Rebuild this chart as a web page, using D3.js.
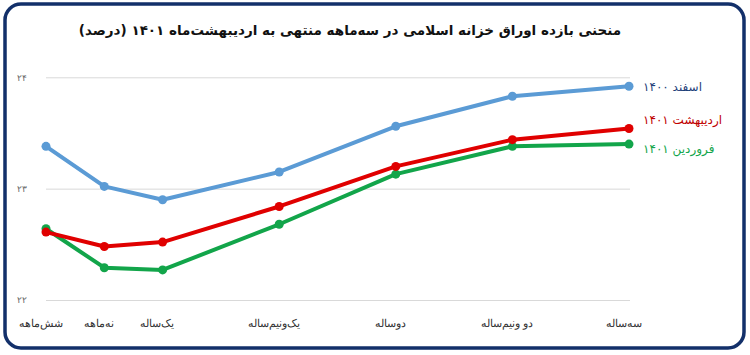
<!DOCTYPE html>
<html>
<head>
<meta charset="utf-8">
<script src="https://cdn.jsdelivr.net/npm/d3@7"></script>
<style>
  body { margin: 0; background: #fff; }
  svg { display: block; font-family: "DejaVu Sans", "Noto Sans", sans-serif; }
</style>
</head>
<body>
<svg></svg>
<script>
const w = 750
const h = 355

// maturities in months, and their labels
const months = [6, 9, 12, 18, 24, 30, 36]
const monthLabels = ['شش‌ماهه', 'نه‌ماهه', 'یک‌ساله', 'یک‌ونیم‌ساله', 'دوساله', 'دو ونیم‌ساله', 'سه‌ساله']

const esfand1400 = [23.38, 23.02, 22.90, 23.15, 23.56, 23.83, 23.92]
const ordibehesht1401 = [22.61, 22.48, 22.52, 22.84, 23.20, 23.44, 23.54]
const farvardin1401 = [22.64, 22.29, 22.27, 22.68, 23.13, 23.38, 23.40]

const yTicks = [22, 23, 24]
const yTickLabels = ['۲۲', '۲۳', '۲۴']

const seriesNames = ['اسفند ۱۴۰۰', 'اردیبهشت ۱۴۰۱', 'فروردین ۱۴۰۱']
const title = 'منحنی بازده اوراق خزانه اسلامی در سه‌ماهه منتهی به اردیبهشت‌ماه ۱۴۰۱ (درصد)'

const series = [
  { name: seriesNames[0], values: esfand1400, color: '#5b9bd5', text: '#1f3f7a', dy: 5 },
  { name: seriesNames[2], values: farvardin1401, color: '#12a54a', text: '#12a54a', dy: 9 },
  { name: seriesNames[1], values: ordibehesht1401, color: '#e00000', text: '#c00000', dy: -5 }
]

const svg = d3.select('svg')
  .attr('width', w)
  .attr('height', h);

// frame
svg.append('rect')
  .attr('x', 5).attr('y', 4)
  .attr('width', 739).attr('height', 344)
  .attr('rx', 16)
  .attr('fill', 'none')
  .attr('stroke', '#13306a')
  .attr('stroke-width', 3.5);

svg.append('text')
  .attr('x', 350).attr('y', 35)
  .attr('text-anchor', 'middle')
  .attr('font-size', 13.5)
  .attr('font-weight', 'bold')
  .attr('fill', '#111')
  .text(title);

const xScale = d3.scaleLinear()
  .domain([6, 36])
  .range([46, 629]);

const yScale = d3.scaleLinear()
  .domain([22, 24])
  .range([300, 77.3]);

const g = svg.append('g');

// gridlines
const yAxis = d3.axisLeft(yScale)
  .tickValues(yTicks)
  .tickSize(-(630 - 46))
  .tickFormat((d, i) => yTickLabels[i]);

const yAxisG = g.append('g')
  .attr('transform', 'translate(46,0)')
  .call(yAxis);
yAxisG.select('.domain').remove();
yAxisG.selectAll('.tick line').attr('stroke', '#d9d9d9').attr('stroke-width', 1);
yAxisG.selectAll('.tick text')
  .attr('x', -19)
  .attr('font-size', 9)
  .attr('fill', '#666');

// x labels
const xAxis = d3.axisBottom(xScale)
  .tickValues(months)
  .tickSize(0)
  .tickFormat((d, i) => monthLabels[i]);

const xAxisG = g.append('g')
  .attr('transform', 'translate(-6,316)')
  .call(xAxis);
xAxisG.select('.domain').remove();
xAxisG.selectAll('.tick text')
  .attr('font-size', 11)
  .attr('fill', '#333');

const line = d3.line()
  .x((d, i) => xScale(months[i]))
  .y(d => yScale(d));

series.forEach(s => {
  g.append('path')
    .attr('d', line(s.values))
    .attr('fill', 'none')
    .attr('stroke', s.color)
    .attr('stroke-width', 4)
    .attr('stroke-linejoin', 'round');

  g.selectAll(null).data(s.values)
    .enter().append('circle')
    .attr('cx', (d, i) => xScale(months[i]))
    .attr('cy', d => yScale(d))
    .attr('r', 4.5)
    .attr('fill', s.color);

  g.append('text')
    .attr('x', 643)
    .attr('y', yScale(s.values[s.values.length - 1]) + s.dy)
    .attr('font-size', 12)
    .attr('fill', s.text)
    .text(s.name);
});
</script>
</body>
</html>
